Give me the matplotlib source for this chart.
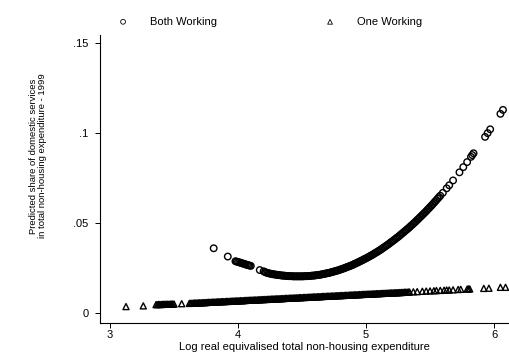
import matplotlib
matplotlib.use('Agg')
import matplotlib.pyplot as plt

plt.rcParams['font.family'] = ['Liberation Sans', 'DejaVu Sans']

# predicted share, both partners working
both_x = [3.81, 3.92, 3.98, 4.00, 4.02, 4.04, 4.06, 4.08, 4.10, 4.17, 4.20,
          4.22, 4.24, 4.26, 4.28, 4.30, 4.32, 4.34, 4.36, 4.38, 4.40,
          4.42, 4.44, 4.46, 4.48, 4.50, 4.52, 4.54, 4.56, 4.58, 4.60,
          4.62, 4.64, 4.66, 4.68, 4.70, 4.72, 4.74, 4.76, 4.78, 4.80,
          4.82, 4.84, 4.86, 4.88, 4.90, 4.92, 4.94, 4.96, 4.98, 5.00,
          5.02, 5.04, 5.06, 5.08, 5.10, 5.12, 5.14, 5.16, 5.18, 5.20,
          5.22, 5.24, 5.26, 5.28, 5.30, 5.32, 5.34, 5.36, 5.38, 5.40,
          5.42, 5.44, 5.46, 5.48, 5.50, 5.52, 5.54, 5.56, 5.58, 5.60,
          5.63, 5.65, 5.68, 5.73, 5.76, 5.79, 5.82, 5.83, 5.84,
          5.93, 5.95, 5.97, 6.05, 6.07]
both_y = [.0361, .0315, .0289, .0285, .0280, .0276, .0271, .0267, .0263, .0240, .0233,
          .0226, .0222, .0219, .0216, .0214, .0212, .0210, .0209, .0207, .0206,
          .0206, .0205, .0205, .0205, .0205, .0206, .0206, .0207, .0209, .0210,
          .0212, .0214, .0217, .0220, .0223, .0226, .0230, .0234, .0238, .0243,
          .0248, .0253, .0259, .0264, .0270, .0277, .0284, .0291, .0298, .0305,
          .0313, .0321, .0329, .0338, .0347, .0356, .0366, .0376, .0386, .0397,
          .0408, .0419, .0430, .0442, .0454, .0466, .0478, .0491, .0504, .0518,
          .0532, .0546, .0560, .0575, .0590, .0605, .0621, .0637, .0653, .0669,
          .0694, .0711, .0738, .0783, .0812, .0840, .0869, .0879, .0889,
          .0980, .1001, .1022, .1108, .1130]

# more households in the dense part of the band
both_x_dense = [3.99, 4.01, 4.03, 4.05, 4.07, 4.09,
                4.21, 4.23, 4.25, 4.27, 4.29, 4.31, 4.33, 4.35, 4.37, 4.39,
                4.41, 4.43, 4.45, 4.47, 4.49, 4.51, 4.53, 4.55, 4.57, 4.59,
                4.61, 4.63, 4.65, 4.67, 4.69, 4.71, 4.73, 4.75, 4.77, 4.79,
                4.81, 4.83, 4.85, 4.87, 4.89, 4.91, 4.93, 4.95, 4.97, 4.99,
                5.01, 5.03, 5.05, 5.07, 5.09, 5.11, 5.13, 5.15, 5.17, 5.19,
                5.21, 5.23, 5.25, 5.27, 5.29, 5.31, 5.33, 5.35, 5.37, 5.39,
                5.41, 5.43, 5.45, 5.47, 5.49, 5.51, 5.53, 5.55, 5.57]
both_y_dense = [.0287, .0283, .0278, .0274, .0269, .0265,
                .0229, .0224, .0220, .0217, .0215, .0213, .0211, .0209, .0208, .0207,
                .0206, .0205, .0205, .0205, .0205, .0205, .0206, .0207, .0208, .0209,
                .0211, .0213, .0215, .0218, .0221, .0224, .0228, .0232, .0236, .0240,
                .0245, .0250, .0256, .0261, .0267, .0274, .0280, .0287, .0294, .0302,
                .0309, .0317, .0325, .0334, .0342, .0351, .0361, .0371, .0381, .0392,
                .0402, .0413, .0424, .0436, .0448, .0460, .0472, .0485, .0498, .0511,
                .0525, .0539, .0553, .0567, .0582, .0597, .0613, .0629, .0645]

# predicted share, one partner working
one_x = [3.125, 3.26, 3.36, 3.38, 3.40, 3.42, 3.44, 3.46, 3.48, 3.50, 3.56,
         3.62, 3.64, 3.66, 3.68, 3.70, 3.72, 3.74, 3.76, 3.78, 3.80,
         3.82, 3.84, 3.86, 3.88, 3.90, 3.92, 3.94, 3.96, 3.98, 4.00,
         4.02, 4.04, 4.06, 4.08, 4.10, 4.12, 4.14, 4.16, 4.18, 4.20,
         4.22, 4.24, 4.26, 4.28, 4.30, 4.32, 4.34, 4.36, 4.38, 4.40,
         4.42, 4.44, 4.46, 4.48, 4.50, 4.52, 4.54, 4.56, 4.58, 4.60,
         4.62, 4.64, 4.66, 4.68, 4.70, 4.72, 4.74, 4.76, 4.78, 4.80,
         4.82, 4.84, 4.86, 4.88, 4.90, 4.92, 4.94, 4.96, 4.98, 5.00,
         5.02, 5.04, 5.06, 5.08, 5.10, 5.12, 5.14, 5.16, 5.18, 5.20,
         5.22, 5.24, 5.26, 5.28, 5.30, 5.32, 5.34,
         5.37, 5.40, 5.44, 5.47, 5.50, 5.53, 5.55, 5.58, 5.61, 5.63, 5.65,
         5.68, 5.72, 5.74, 5.79, 5.80, 5.81, 5.92, 5.96, 6.05, 6.09]
one_y = [.0037, .0041, .0048, .0049, .0049, .0050, .0050, .0050, .0051, .0051, .0053,
         .0055, .0056, .0057, .0057, .0058, .0059, .0059, .0060, .0061, .0062,
         .0062, .0063, .0064, .0065, .0065, .0066, .0067, .0068, .0068, .0069,
         .0070, .0070, .0071, .0072, .0073, .0073, .0074, .0075, .0076, .0076,
         .0077, .0078, .0079, .0079, .0080, .0081, .0081, .0082, .0083, .0084,
         .0084, .0085, .0086, .0087, .0087, .0088, .0089, .0089, .0090, .0091,
         .0092, .0092, .0093, .0094, .0095, .0095, .0096, .0097, .0098, .0098,
         .0099, .0100, .0100, .0101, .0102, .0103, .0103, .0104, .0105, .0106,
         .0106, .0107, .0108, .0109, .0109, .0110, .0111, .0111, .0112, .0113,
         .0114, .0114, .0115, .0116, .0117, .0117, .0118,
         .0119, .0120, .0122, .0123, .0124, .0125, .0126, .0127, .0128, .0129, .0129,
         .0130, .0132, .0133, .0134, .0135, .0135, .0138, .0139, .0144, .0144]

one_x_dense = [3.37, 3.39, 3.41, 3.43, 3.45, 3.47, 3.49,
               3.63, 3.65, 3.67, 3.69, 3.71, 3.73, 3.75, 3.77, 3.79, 3.81,
               3.83, 3.85, 3.87, 3.89, 3.91, 3.93, 3.95, 3.97, 3.99, 4.01,
               4.03, 4.05, 4.07, 4.09, 4.11, 4.13, 4.15, 4.17, 4.19, 4.21,
               4.23, 4.25, 4.27, 4.29, 4.31, 4.33, 4.35, 4.37, 4.39, 4.41,
               4.43, 4.45, 4.47, 4.49, 4.51, 4.53, 4.55, 4.57, 4.59, 4.61,
               4.63, 4.65, 4.67, 4.69, 4.71, 4.73, 4.75, 4.77, 4.79, 4.81,
               4.83, 4.85, 4.87, 4.89, 4.91, 4.93, 4.95, 4.97, 4.99, 5.01,
               5.03, 5.05, 5.07, 5.09, 5.11, 5.13, 5.15, 5.17, 5.19, 5.21,
               5.23, 5.25, 5.27, 5.29, 5.31, 5.33]
one_y_dense = [.0048, .0049, .0049, .0050, .0050, .0051, .0051,
               .0055, .0056, .0057, .0058, .0058, .0059, .0060, .0061, .0061, .0062,
               .0063, .0064, .0064, .0065, .0066, .0066, .0067, .0068, .0069, .0069,
               .0070, .0071, .0072, .0072, .0073, .0074, .0074, .0075, .0076, .0077,
               .0077, .0078, .0079, .0080, .0080, .0081, .0082, .0083, .0083, .0084,
               .0085, .0085, .0086, .0087, .0088, .0088, .0089, .0090, .0091, .0091,
               .0092, .0093, .0094, .0094, .0095, .0096, .0096, .0097, .0098, .0099,
               .0099, .0100, .0101, .0102, .0102, .0103, .0104, .0105, .0105, .0106,
               .0107, .0107, .0108, .0109, .0110, .0110, .0111, .0112, .0113, .0113,
               .0114, .0115, .0115, .0116, .0117, .0118]

xticks = [3, 4, 5, 6]
yticks = [0, .05, .1, .15]
ytick_labels = ['0', '.05', '.1', '.15']

fig = plt.figure(figsize=(5.09, 3.52), dpi=100)
ax = fig.add_axes([0.1965, 0.0815, 0.8035, 0.819])

ax.scatter(both_x + both_x_dense, both_y + both_y_dense, s=22, marker='o',
           facecolors='none', edgecolors='black', linewidths=1.0,
           label='Both Working')
ax.scatter(one_x + one_x_dense, one_y + one_y_dense, s=19, marker='^',
           facecolors='none', edgecolors='black', linewidths=1.0,
           label='One Working')

ax.set_xlim(2.922, 6.117)
ax.set_ylim(-0.0056, 0.1546)
ax.set_xticks(xticks)
ax.set_yticks(yticks)
ax.set_yticklabels(ytick_labels)
ax.spines['top'].set_visible(False)
ax.spines['right'].set_visible(False)
ax.tick_params(axis='both', direction='out', length=3.6, width=0.7,
               labelsize=8, color='black')
ax.tick_params(axis='y', pad=4.8)
ax.tick_params(axis='x', pad=1)
ax.set_xlabel('Log real equivalised total non-housing expenditure',
              fontsize=8, labelpad=1.5)

fig.text(38 / 509, 1 - 156 / 352,
         'Predicted share of domestic services\nin total non-housing expenditure - 1999',
         rotation=90, ha='center', va='center', fontsize=6.8, linespacing=1.05)

leg = fig.legend(loc='center left', bbox_to_anchor=(117.5 / 509, 1 - 21.7 / 352),
                 ncol=2, frameon=False, fontsize=8, handlelength=1,
                 handletextpad=1.9, columnspacing=9.7, borderpad=0,
                 borderaxespad=0, scatterpoints=1)
for h in leg.legend_handles:
    h.set_sizes([12])
    h.set_linewidths([0.6])

fig.savefig('out.png', dpi=100)
